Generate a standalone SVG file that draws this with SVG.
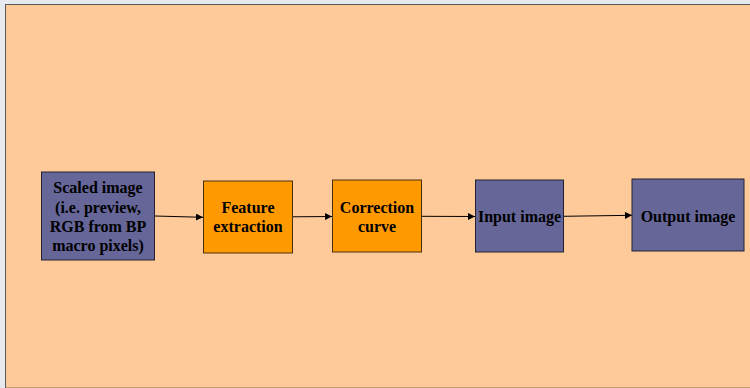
<svg xmlns="http://www.w3.org/2000/svg" width="750" height="388" viewBox="0 0 750 388">
  <style>
    .blue { fill: #666699; stroke: #222233; stroke-width: 1; }
    .orange { fill: #FF9900; stroke: #4a3010; stroke-width: 1; }
    .lbl { font-family: "Liberation Serif", "Times New Roman", serif; font-weight: bold; font-size: 16px; fill: #000; text-anchor: middle; }
    .conn { stroke: #000; stroke-width: 1; fill: none; marker-end: url(#arrow); }
  </style>
  <defs>
    <marker id="arrow" viewBox="0 0 10 10" refX="10" refY="5" markerWidth="8" markerHeight="7" markerUnits="userSpaceOnUse" orient="auto">
      <path d="M0,0 L10,5 L0,10 z" fill="#000"/>
    </marker>
  </defs>

  <!-- window frame and slide background -->
  <rect x="0" y="0" width="750" height="388" fill="#E6EAEF"/>
  <rect x="5.5" y="4.5" width="750" height="383" fill="#FFCA99" stroke="#5a5a5a" stroke-width="1"/>
  <line x1="6" y1="387.5" x2="750" y2="387.5" stroke="#C49A70" stroke-width="1"/>

  <g id="connectors">
    <line class="conn" x1="155" y1="216" x2="203" y2="217.3"/>
    <line class="conn" x1="293" y1="216.8" x2="332" y2="216.5"/>
    <line class="conn" x1="422" y1="216.3" x2="475" y2="216.5"/>
    <line class="conn" x1="563" y1="216.3" x2="632" y2="215.3"/>
  </g>

  <g id="scaled-image">
    <rect class="blue" x="41.5" y="172" width="113" height="88"/>
    <text class="lbl" x="98" y="193.3">Scaled image</text>
    <text class="lbl" x="98" y="212.5">(i.e. preview,</text>
    <text class="lbl" x="98" y="231.7">RGB from BP</text>
    <text class="lbl" x="98" y="250.9">macro pixels)</text>
  </g>

  <g id="feature-extraction">
    <rect class="orange" x="203.5" y="181" width="89" height="72"/>
    <text class="lbl" x="248" y="213">Feature</text>
    <text class="lbl" x="248" y="232">extraction</text>
  </g>

  <g id="correction-curve">
    <rect class="orange" x="332.5" y="180" width="89" height="72"/>
    <text class="lbl" x="377" y="213">Correction</text>
    <text class="lbl" x="377" y="231.5">curve</text>
  </g>

  <g id="input-image">
    <rect class="blue" x="475.5" y="180" width="88" height="72"/>
    <text class="lbl" x="519.5" y="222">Input image</text>
  </g>

  <g id="output-image">
    <rect class="blue" x="632" y="179" width="112" height="72"/>
    <text class="lbl" x="688" y="221.7">Output image</text>
  </g>
</svg>
